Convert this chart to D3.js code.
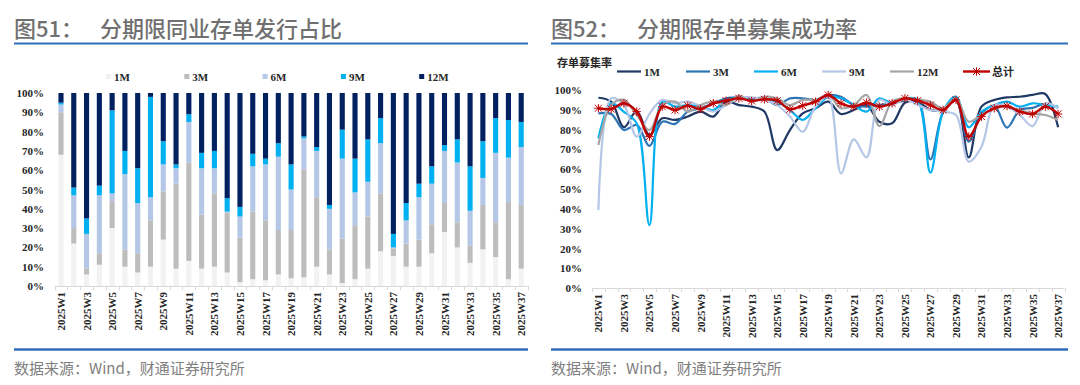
<!DOCTYPE html>
<html>
<head>
<meta charset="utf-8">
<script src="https://cdn.jsdelivr.net/npm/d3@7"></script>
<style>
  body { margin: 0; background: #fff; }
  svg { display: block; }
</style>
</head>
<body>
<div id="chart"></div>
<script>
// weeks shown on both charts
const weeks = ["2025W1","2025W2","2025W3","2025W4","2025W5","2025W6","2025W7","2025W8","2025W9","2025W10",
  "2025W11","2025W12","2025W13","2025W14","2025W15","2025W16","2025W17","2025W18","2025W19","2025W20",
  "2025W21","2025W22","2025W23","2025W24","2025W25","2025W26","2025W27","2025W28","2025W29","2025W30",
  "2025W31","2025W32","2025W33","2025W34","2025W35","2025W36","2025W37"];
const tenors = ["1M", "3M", "6M", "9M", "12M"];

// fig 51: issuance share by tenor (%)
const share1M  = [68,22,6,11,30,10,7,10,24,9,13,9,10,7,2,3.5,3,6,4,4.5,10,6,1.5,3.5,9,18,15.5,10,10,17,28,20,12,19,15,3.5,9];
const share3M  = [22,8,3,6,14,9,10,24,25,44,51,28,38,31,23,35,31,23,25,56,36,13,23,28,27,30,4,12,14,15,15,13,9,23,18,40,33];
const share6M  = [4,17,18,30,4,39,26,12,14,8,21,24,13,0.5,11,23.5,29,38,21,16,24,21,41.5,17,18,26,0.5,12,22,21,27,31,18,14,36,23,30];
const share9M  = [1,4,8,5,43,12,18,52,12,2,4,8,9,7,5,6.5,3,7,13,1,2,2,15,17.5,22,13,7,9,7,9,3,12,23,19,18,19.5,13];
const share12M = [5,49,65,48,9,30,39,2,25,37,11,31,30,54.5,59,31.5,34,26,37,22.5,28,58,19,34,24,13,73,57,47,38,27,24,38,25,13,14,15];

// fig 52: subscription success rate (%)
const rate1M    = [96.1,94.1,81.2,89.4,77.3,85.7,84.9,86.6,89.1,86.6,94.1,92.4,91.6,89.1,69.7,79.8,88.2,90.8,94.1,87.9,89.9,92.4,84,83.2,93.6,94.1,90,89.9,95,66,91.6,95,96.3,96.6,97.5,98,81.2];
const rate3M    = [88.2,87.9,79.8,82.4,71.8,84,82.9,89.1,90.8,93.3,95.8,96.3,95.8,95.8,92.4,95.8,95.8,95,97.5,96.6,92.4,91.6,92.4,93.3,94.6,95.3,65,89,95,74,88,92,81,90,91,93,91];
const rate6M    = [75.6,93.3,89,83.2,31.9,94.1,91.6,92.4,91.6,89.9,95,95.8,95.3,95,94.1,89.9,84.9,90.8,96.6,95.8,92.4,89.1,95.8,93.3,95.8,95,58.3,89.1,96.6,81.2,89.1,92.4,94.1,91.6,93.3,92.4,91.6];
const rate9M    = [39.5,95.8,92.4,76.5,88,95,93.3,94.1,91.9,89.1,92.4,95.8,96.3,95,92.4,86.6,79,91.6,96.6,58,75.1,66,95,92.4,95.3,92.4,89.9,89.1,87.4,63.9,71.4,92.4,91.6,87.4,81.8,93.3,90.8];
const rate12M   = [72.3,92.4,95,87.4,79.8,92.4,94.1,89.1,92.4,94.1,92.4,97,94.1,96.6,95.8,92.4,95,95,97.5,90.8,92.4,97.5,81.8,94.1,95.8,95.3,94.1,90.8,95.8,84,87.4,90.8,91.6,89.9,88.2,87.4,84.9];
const rateTotal = [90.8,90.4,93.3,89.1,76.5,91.6,89.9,92.1,90.4,93.3,94.6,95.8,94.5,95.3,94.6,90.3,92.1,94.1,97.5,93.3,91.6,93.6,91.6,93.3,95.8,94.6,92.4,89.9,95,76.5,86.6,90.8,91.9,89.1,87.9,91.6,87.9];

const pctTicks = [0,10,20,30,40,50,60,70,80,90,100];

const barColors  = ["#F2F2F2", "#BDBDBD", "#B4C7E7", "#00B0F0", "#002060"];
const lineColors = ["#1F3864", "#2E75B6", "#00B0F0", "#B4C7E7", "#A5A5A5"];
const red = "#C00000";

const serif = "'Liberation Serif','Times New Roman',serif";
const cjk = "'Noto Sans CJK SC','Noto Sans',sans-serif";

const svg = d3.select("#chart").append("svg")
    .attr("width", 1080)
    .attr("height", 385);

// ---------- frame: titles, rules, sources ----------
function frame(x0, x1, num, title) {
  svg.append("text").attr("x", x0).attr("y", 37)
    .attr("font-family", cjk).attr("font-size", 22).attr("font-weight", 500)
    .attr("fill", "#707070").text(num);
  svg.append("text").attr("x", x0 + 86).attr("y", 37)
    .attr("font-family", cjk).attr("font-size", 22).attr("font-weight", 500)
    .attr("fill", "#707070").text(title);
  svg.append("line").attr("x1", x0).attr("x2", x1).attr("y1", 43.5).attr("y2", 43.5)
    .attr("stroke", "#2F6EBA").attr("stroke-width", 2);
  svg.append("line").attr("x1", x0).attr("x2", x1).attr("y1", 349.5).attr("y2", 349.5)
    .attr("stroke", "#2F6EBA").attr("stroke-width", 2.5);
  svg.append("text").attr("x", x0).attr("y", 374)
    .attr("font-family", cjk).attr("font-size", 15)
    .attr("fill", "#808080").text("数据来源：Wind，财通证券研究所");
}
frame(14, 528, "图51：", "分期限同业存单发行占比");
frame(551, 1068, "图52：", "分期限存单募集成功率");

function yAxis(g, y, xRight) {
  g.selectAll("text.ytick").data(pctTicks).enter().append("text")
    .attr("x", xRight).attr("y", d => y(d) + 4)
    .attr("text-anchor", "end")
    .attr("font-family", serif).attr("font-size", 11).attr("font-weight", 700)
    .attr("fill", "#262626")
    .text(d => d + "%");
}

function xAxis(g, x, yPos) {
  const [r0, r1] = x.range();
  g.append("line").attr("x1", r0).attr("x2", r1).attr("y1", yPos + 0.5).attr("y2", yPos + 0.5)
    .attr("stroke", "#D9D9D9").attr("stroke-width", 1);
  const step = x.step();
  g.selectAll("line.xt").data(d3.range(weeks.length + 1)).enter().append("line")
    .attr("x1", i => Math.round(r0 + i * step) + 0.5)
    .attr("x2", i => Math.round(r0 + i * step) + 0.5)
    .attr("y1", yPos).attr("y2", yPos + 4)
    .attr("stroke", "#D9D9D9");
  g.selectAll("text.xl").data(weeks.filter((w, i) => i % 2 === 0)).enter().append("text")
    .attr("transform", d => `translate(${x(d) + x.bandwidth() / 2 + 4},${yPos + 6}) rotate(-90)`)
    .attr("text-anchor", "end")
    .attr("font-family", serif).attr("font-size", 11).attr("font-weight", 700)
    .attr("fill", "#262626")
    .text(d => d);
}

// ---------- fig 51: stacked bars ----------
{
  const g = svg.append("g");
  const x = d3.scaleBand().domain(weeks).range([54.6, 527.6]).paddingInner(0.6).paddingOuter(0.3);
  const y = d3.scaleLinear().domain([0, 100]).range([286, 93]);

  const rows = weeks.map((w, i) => ({
    week: w, "1M": share1M[i], "3M": share3M[i], "6M": share6M[i], "9M": share9M[i], "12M": share12M[i]
  }));
  const stack = d3.stack().keys(tenors).offset(d3.stackOffsetExpand)(rows);

  g.selectAll("g.s").data(stack).enter().append("g")
      .attr("fill", (d, i) => barColors[i])
    .selectAll("rect").data(d => d).enter().append("rect")
      .attr("x", d => x(d.data.week))
      .attr("width", x.bandwidth())
      .attr("y", d => y(d[1] * 100))
      .attr("height", d => y(d[0] * 100) - y(d[1] * 100));

  yAxis(g, y, 44);
  xAxis(g, x, 286);

  const lg = g.selectAll("g.lg").data(tenors).enter().append("g")
    .attr("transform", (d, i) => `translate(${106 + i * 78.3},76.5)`);
  lg.append("rect").attr("x", 0).attr("y", -2.5).attr("width", 5).attr("height", 5)
    .attr("fill", (d, i) => barColors[i]);
  lg.append("text").attr("x", 8).attr("y", 4)
    .attr("font-family", serif).attr("font-size", 11).attr("font-weight", 700)
    .attr("fill", "#262626").text(d => d);
}

// ---------- fig 52: smoothed lines ----------
{
  const g = svg.append("g");
  const x = d3.scaleBand().domain(weeks).range([592, 1064.5]);
  const y = d3.scaleLinear().domain([0, 100]).range([288.3, 90]);
  const cx = w => x(w) + x.bandwidth() / 2;

  yAxis(g, y, 582);
  xAxis(g, x, 288);

  const series = [rate1M, rate3M, rate6M, rate9M, rate12M];
  const line = d3.line()
    .x((d, i) => cx(weeks[i]))
    .y(d => y(d))
    .curve(d3.curveCatmullRom.alpha(0.5));

  g.selectAll("path.ln").data(series).enter().append("path")
    .attr("d", line)
    .attr("fill", "none")
    .attr("stroke", (d, i) => lineColors[i])
    .attr("stroke-width", 2.2);

  g.append("path").datum(rateTotal)
    .attr("d", line)
    .attr("fill", "none")
    .attr("stroke", red)
    .attr("stroke-width", 2.4);

  const star = "M-3.5,-3.5L3.5,3.5M-3.5,3.5L3.5,-3.5M0,-4.2L0,4.2M-4.2,0L4.2,0";
  g.selectAll("path.mk").data(rateTotal).enter().append("path")
    .attr("transform", (d, i) => `translate(${cx(weeks[i])},${y(d)})`)
    .attr("d", star)
    .attr("stroke", red).attr("stroke-width", 1).attr("fill", "none");

  g.append("text").attr("x", 557).attr("y", 67)
    .attr("font-family", cjk).attr("font-size", 11).attr("font-weight", 700)
    .attr("fill", "#262626").text("存单募集率");

  const legendX = [617, 686, 754, 822, 890];
  const lg = g.selectAll("g.lg").data(tenors).enter().append("g")
    .attr("transform", (d, i) => `translate(${legendX[i]},71.5)`);
  lg.append("line").attr("x1", 0).attr("x2", 24).attr("y1", 0).attr("y2", 0)
    .attr("stroke", (d, i) => lineColors[i]).attr("stroke-width", 2.2);
  lg.append("text").attr("x", 27).attr("y", 4)
    .attr("font-family", serif).attr("font-size", 11).attr("font-weight", 700)
    .attr("fill", "#262626").text(d => d);

  const tl = g.append("g").attr("transform", "translate(963,71.5)");
  tl.append("line").attr("x1", 0).attr("x2", 27).attr("y1", 0).attr("y2", 0)
    .attr("stroke", red).attr("stroke-width", 2.4);
  tl.append("path").attr("transform", "translate(13.5,0)").attr("d", star)
    .attr("stroke", red).attr("stroke-width", 1).attr("fill", "none");
  tl.append("text").attr("x", 29).attr("y", 4.5)
    .attr("font-family", cjk).attr("font-size", 11).attr("font-weight", 700)
    .attr("fill", "#262626").text("总计");
}
</script>
</body>
</html>
